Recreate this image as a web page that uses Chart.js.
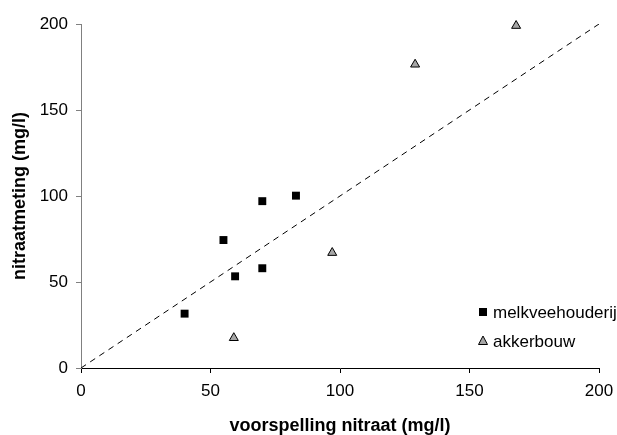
<!DOCTYPE html>
<html>
<head>
<meta charset="utf-8">
<script src="https://cdn.jsdelivr.net/npm/chart.js@4/dist/chart.umd.min.js"></script>
<style>
html,body{margin:0;padding:0;background:#fff;}
canvas{display:block;}
</style>
</head>
<body>
<canvas id="c" width="617" height="435"></canvas>
<script>
// ---- data ----
const tickValues = [0, 50, 100, 150, 200];
const melkX = [40, 55, 59.5, 70, 70, 83];
const melkY = [31.6, 74.4, 53.3, 97, 58, 100.2];
const akkerX = [59, 97, 129, 168];
const akkerY = [17.5, 67, 176.5, 199];
const refLineX = [0, 200];
const refLineY = [0, 200];
const seriesLabels = ['melkveehouderij', 'akkerbouw'];
const xTitle = 'voorspelling nitraat (mg/l)';
const yTitle = 'nitraatmeting (mg/l)';

const FONT = '"Liberation Sans", Arial, sans-serif';
const toPts = (xs, ys) => xs.map((x, i) => ({x: x, y: ys[i]}));

const legendPlugin = {
  id: 'innerLegend',
  afterDatasetsDraw(chart) {
    const ctx = chart.ctx;
    const items = [
      {ds: chart.data.datasets[1], y: 312},
      {ds: chart.data.datasets[2], y: 341}
    ];
    ctx.save();
    items.forEach(it => {
      const mx = 483, my = it.y;
      ctx.lineWidth = 1;
      if (it.ds.pointStyle === 'rect') {
        ctx.fillStyle = '#000';
        ctx.fillRect(mx - 4, my - 4, 8, 8);
      } else {
        ctx.beginPath();
        ctx.moveTo(mx, my - 5);
        ctx.lineTo(mx + 4.5, my + 3.5);
        ctx.lineTo(mx - 4.5, my + 3.5);
        ctx.closePath();
        ctx.fillStyle = it.ds.backgroundColor;
        ctx.fill();
        ctx.strokeStyle = '#000';
        ctx.stroke();
      }
      ctx.fillStyle = '#000';
      ctx.font = '17px ' + FONT;
      ctx.textBaseline = 'middle';
      ctx.textAlign = 'left';
      ctx.fillText(it.ds.label, 493, my + 1);
    });
    ctx.restore();
  }
};

new Chart(document.getElementById('c'), {
  type: 'scatter',
  data: {
    datasets: [
      {
        label: 'ref',
        data: toPts(refLineX, refLineY),
        showLine: true,
        borderColor: '#000',
        borderWidth: 1,
        borderDash: [6, 5],
        pointRadius: 0,
        fill: false
      },
      {
        label: seriesLabels[0],
        data: toPts(melkX, melkY),
        pointStyle: 'rect',
        pointRadius: 5.6,
        backgroundColor: '#000',
        borderColor: '#000',
        borderWidth: 0,
        clip: false
      },
      {
        label: seriesLabels[1],
        data: toPts(akkerX, akkerY),
        pointStyle: 'triangle',
        pointRadius: 5.2,
        backgroundColor: '#a6a6a6',
        borderColor: '#000',
        borderWidth: 1,
        clip: false
      }
    ]
  },
  options: {
    responsive: false,
    animation: false,
    devicePixelRatio: 1,
    layout: {padding: {top: 24, right: 18, left: 0, bottom: 0}},
    plugins: {legend: {display: false}, tooltip: {enabled: false}},
    scales: {
      x: {
        type: 'linear',
        min: 0, max: 200,
        afterFit(s) { s.height = 67; s.paddingRight = 0; s.paddingLeft = 0; },
        afterBuildTicks(s) { s.ticks = tickValues.map(v => ({value: v})); },
        ticks: {color: '#000', font: {family: FONT, size: 17}, padding: 8, maxRotation: 0},
        grid: {display: true, drawOnChartArea: false, drawTicks: true, tickLength: 5, color: '#000'},
        border: {display: true, color: '#000', width: 1},
        title: {display: true, text: xTitle, color: '#000', font: {family: FONT, size: 18, weight: 'bold', lineHeight: 1}, padding: {top: 0, bottom: 0}}
      },
      y: {
        type: 'linear',
        min: 0, max: 200,
        afterFit(s) { s.width = 81; s.paddingTop = 0; s.paddingBottom = 0; },
        afterBuildTicks(s) { s.ticks = tickValues.map(v => ({value: v})); },
        ticks: {color: '#000', font: {family: FONT, size: 17}, padding: 8},
        grid: {display: true, drawOnChartArea: false, drawTicks: true, tickLength: 5, color: '#808080'},
        border: {display: true, color: '#808080', width: 1},
        title: {display: true, text: yTitle, color: '#000', font: {family: FONT, size: 18, weight: 'bold', lineHeight: 1}, padding: {top: 11, bottom: 0}}
      }
    }
  },
  plugins: [legendPlugin]
});
</script>
</body>
</html>
